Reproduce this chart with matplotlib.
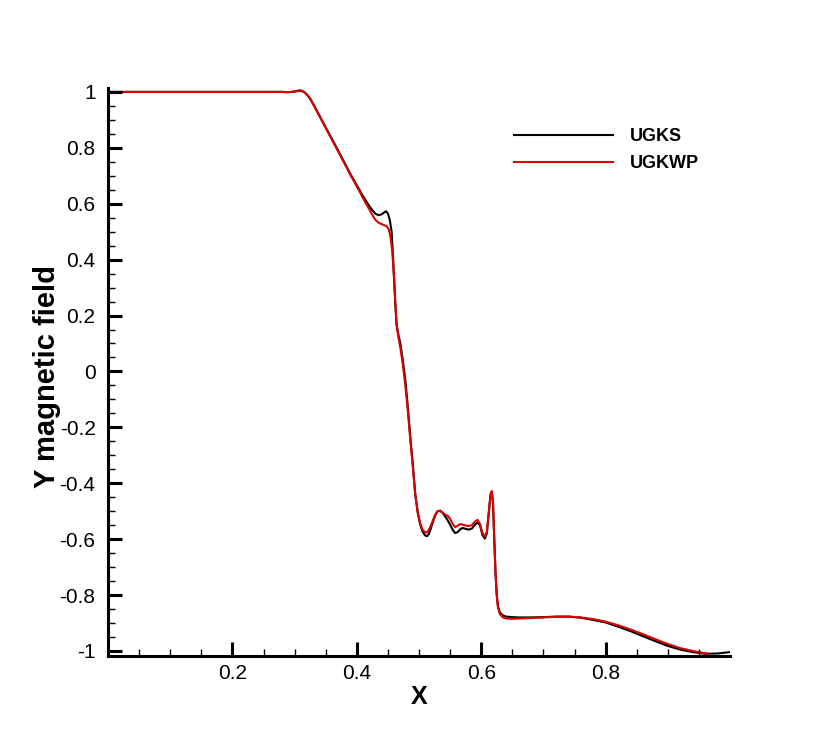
import matplotlib
matplotlib.use("Agg")
import matplotlib.pyplot as plt
import numpy as np

plt.rcParams['font.family'] = ['Liberation Sans', 'DejaVu Sans']
plt.rcParams['axes.unicode_minus'] = False

# ---- data ----
ugks_x = [0.0, 0.05, 0.1, 0.15, 0.2, 0.25, 0.28, 0.29, 0.30, 0.305, 0.31, 0.315, 0.32, 0.325,
          0.33, 0.34, 0.35, 0.36, 0.37, 0.38, 0.39, 0.40, 0.41, 0.42, 0.425, 0.43, 0.435, 0.44,
          0.444, 0.447, 0.450, 0.453, 0.456, 0.458, 0.460, 0.462, 0.464, 0.467, 0.470, 0.474,
          0.478, 0.482, 0.486, 0.490, 0.494, 0.498, 0.502, 0.506, 0.510, 0.513, 0.516, 0.519,
          0.522, 0.526, 0.530, 0.534, 0.538, 0.542, 0.546, 0.550, 0.554, 0.558, 0.562, 0.566,
          0.570, 0.575, 0.580, 0.585, 0.590, 0.594, 0.598, 0.602, 0.606, 0.609, 0.612, 0.615,
          0.617, 0.619, 0.621, 0.623, 0.625, 0.627, 0.630, 0.635, 0.640, 0.650, 0.66, 0.68,
          0.70, 0.72, 0.74, 0.76, 0.78, 0.80, 0.82, 0.84, 0.86, 0.88, 0.90, 0.92, 0.94, 0.96,
          0.98, 1.0]
ugks_y = [1.0, 1.0, 1.0, 1.0, 1.0, 1.0, 1.0, 0.999, 1.001, 1.004, 1.005, 1.0, 0.99, 0.976,
          0.957, 0.915, 0.873, 0.832, 0.79, 0.748, 0.705, 0.666, 0.627, 0.592, 0.577, 0.564,
          0.559, 0.562, 0.569, 0.573, 0.565, 0.542, 0.50, 0.42, 0.33, 0.24, 0.165, 0.13, 0.10,
          0.04, -0.03, -0.125, -0.235, -0.33, -0.44, -0.505, -0.548, -0.574, -0.587, -0.589,
          -0.581, -0.562, -0.54, -0.515, -0.500, -0.498, -0.506, -0.518, -0.532, -0.548, -0.566,
          -0.578, -0.575, -0.565, -0.560, -0.563, -0.566, -0.562, -0.548, -0.540, -0.550,
          -0.585, -0.598, -0.58, -0.51, -0.44, -0.43, -0.47, -0.60, -0.72, -0.80, -0.84, -0.862,
          -0.873, -0.877, -0.879, -0.880, -0.880, -0.879, -0.877, -0.877, -0.881, -0.889,
          -0.898, -0.913, -0.929, -0.947, -0.965, -0.982, -0.995, -1.004, -1.010, -1.009, -1.004]

ugkwp_x = [0.0, 0.05, 0.1, 0.15, 0.2, 0.25, 0.28, 0.29, 0.30, 0.305, 0.31, 0.315, 0.32, 0.325,
           0.33, 0.34, 0.35, 0.36, 0.37, 0.38, 0.39, 0.40, 0.41, 0.42, 0.425, 0.43, 0.435, 0.44,
           0.445, 0.448, 0.451, 0.454, 0.457, 0.460, 0.462, 0.464, 0.467, 0.470, 0.474, 0.478,
           0.482, 0.486, 0.490, 0.494, 0.498, 0.502, 0.506, 0.510, 0.514, 0.518, 0.522, 0.526,
           0.530, 0.534, 0.538, 0.542, 0.546, 0.550, 0.554, 0.558, 0.562, 0.566, 0.570, 0.575,
           0.580, 0.585, 0.590, 0.594, 0.598, 0.602, 0.606, 0.609, 0.612, 0.615, 0.617, 0.619,
           0.621, 0.623, 0.625, 0.627, 0.630, 0.635, 0.640, 0.650, 0.66, 0.68, 0.70, 0.72, 0.74,
           0.76, 0.78, 0.80, 0.82, 0.84, 0.86, 0.88, 0.90, 0.92, 0.94, 0.965]
ugkwp_y = [1.0, 1.0, 1.0, 1.0, 1.0, 1.0, 1.0, 0.999, 1.001, 1.004, 1.005, 1.0, 0.99, 0.975,
           0.955, 0.913, 0.871, 0.829, 0.787, 0.745, 0.702, 0.662, 0.620, 0.580, 0.560, 0.542,
           0.532, 0.527, 0.522, 0.520, 0.510, 0.485, 0.43, 0.33, 0.24, 0.17, 0.12, 0.085, 0.025,
           -0.05, -0.14, -0.245, -0.34, -0.44, -0.505, -0.545, -0.567, -0.577, -0.573, -0.557,
           -0.535, -0.512, -0.500, -0.499, -0.505, -0.512, -0.516, -0.527, -0.545, -0.557, -0.552,
           -0.546, -0.548, -0.551, -0.553, -0.550, -0.537, -0.531, -0.545, -0.578, -0.591,
           -0.575, -0.51, -0.44, -0.428, -0.47, -0.60, -0.72, -0.80, -0.845, -0.868, -0.880,
           -0.884, -0.885, -0.884, -0.882, -0.880, -0.878, -0.877, -0.880, -0.886, -0.895,
           -0.908, -0.923, -0.940, -0.958, -0.975, -0.990, -1.000, -1.010]

x_major = [0.2, 0.4, 0.6, 0.8]
x_labels = ['0.2', '0.4', '0.6', '0.8']
x_minor = [0.05, 0.1, 0.15, 0.25, 0.3, 0.35, 0.45, 0.5, 0.55, 0.65, 0.7, 0.75, 0.85, 0.9, 0.95]
y_major = [-1, -0.8, -0.6, -0.4, -0.2, 0, 0.2, 0.4, 0.6, 0.8, 1]
y_labels = ['-1', '-0.8', '-0.6', '-0.4', '-0.2', '0', '0.2', '0.4', '0.6', '0.8', '1']
y_minor = [v / 100 for v in range(-95, 100, 5) if v % 20 != 0]

# ---- figure ----
fig = plt.figure(figsize=(8.30, 7.39), dpi=100)
ax = fig.add_axes([108 / 830, 1 - 656 / 739, 622 / 830, 568 / 739])

ax.plot(ugks_x, ugks_y, color='black', lw=1.5, label='UGKS', solid_joinstyle='round')
ax.plot(ugkwp_x, ugkwp_y, color='#dd0000', lw=1.5, label='UGKWP', solid_joinstyle='round')

ax.set_xlim(0.0, 1.0)
ax.set_ylim(-1.018, 1.014)

for s in ['top', 'right']:
    ax.spines[s].set_visible(False)
for s in ['left', 'bottom']:
    ax.spines[s].set_linewidth(2.2)

ax.set_xticks(x_major)
ax.set_xticklabels(x_labels)
ax.set_xticks(x_minor, minor=True)
ax.set_yticks(y_major)
ax.set_yticklabels(y_labels)
ax.set_yticks(y_minor, minor=True)
ax.tick_params(which='major', direction='in', length=10, width=2.2, labelsize=15, pad=6)
ax.tick_params(which='minor', direction='in', length=5, width=1.0)
ax.tick_params(axis='y', which='major', pad=9)
ax.set_axisbelow(False)

ax.set_xlabel('X', fontsize=18, fontweight='bold', labelpad=1.5)
ax.set_ylabel('Y magnetic field', fontsize=21, fontweight='bold')
ax.yaxis.set_label_coords((61 - 108) / 622, (656 - 376) / 568)

ax.legend(loc='upper left', bbox_to_anchor=(514 / 830, 1 - 128 / 739),
          bbox_transform=fig.transFigure, frameon=False, borderpad=0, borderaxespad=0,
          handlelength=5.5, handletextpad=0.9, labelspacing=0.55,
          prop={'family': 'Liberation Sans', 'weight': 'bold', 'size': 13})

fig.savefig('out.png', dpi=100)
